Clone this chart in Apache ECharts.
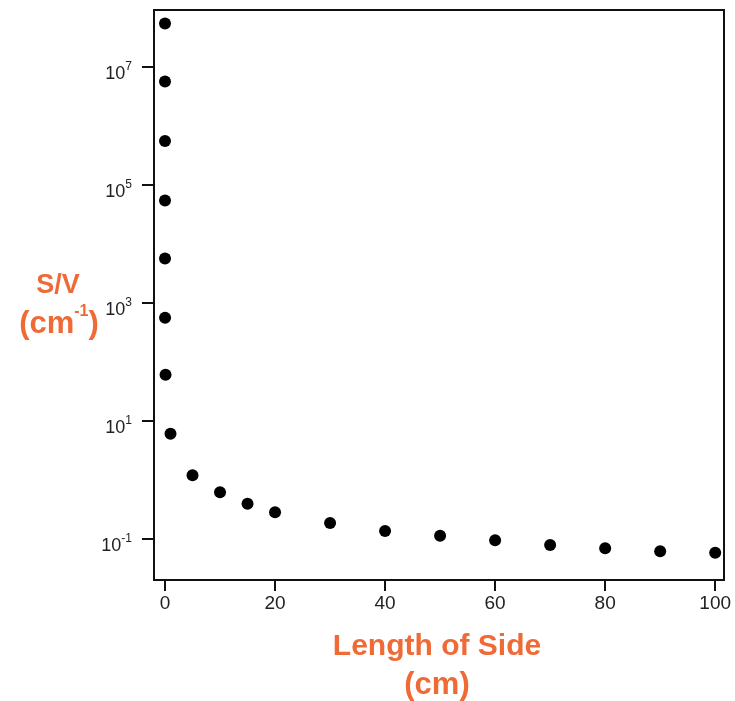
<!DOCTYPE html>
<html><head><meta charset="utf-8">
<script src="https://cdn.jsdelivr.net/npm/echarts@6/dist/echarts.min.js"></script>
<style>html,body{margin:0;padding:0;background:#fff}#c{width:735px;height:701px}</style>
</head><body><div id="c"></div>
<script>
const sideLengths = [1e-7, 1e-6, 1e-5, 1e-4, 1e-3, 1e-2, 0.1, 1, 5, 10, 15, 20, 30, 40, 50, 60, 70, 80, 90, 100];
const surfaceToVolume = [5.4e7, 5.6e6, 5.5e5, 5.4e4, 5.6e3, 557, 60, 6.0, 1.19, 0.61, 0.39, 0.28, 0.185, 0.135, 0.112, 0.094, 0.078, 0.069, 0.061, 0.058];
const xTickValues = [0, 20, 40, 60, 80, 100];
const yTickValues = [0.1, 10, 1e3, 1e5, 1e7];

const points = sideLengths.map((x, i) => [x, surfaceToVolume[i]]);
const orange = '#F06A35';
const font = 'Liberation Sans, Arial, sans-serif';
const yMin = Math.pow(10, -1.70), yMax = Math.pow(10, 7.96);

const chart = echarts.init(document.getElementById('c'), null, {renderer: 'canvas'});
chart.setOption({
  animation: false,
  backgroundColor: '#fff',
  grid: {left: 154, right: 11, top: 10, bottom: 121, show: true, borderColor: '#111', borderWidth: 2, backgroundColor: 'transparent'},
  xAxis: {
    type: 'value', min: -2, max: 101.6,
    axisLine: {show: true, onZero: false, lineStyle: {color: '#111', width: 2}},
    axisTick: {show: true, length: 11, lineStyle: {color: '#111', width: 2}, customValues: xTickValues},
    axisLabel: {customValues: xTickValues, margin: 14, fontSize: 19, color: '#222', fontFamily: font},
    splitLine: {show: false}
  },
  yAxis: {
    type: 'log', logBase: 10, min: yMin, max: yMax,
    axisLine: {show: true, onZero: false, lineStyle: {color: '#111', width: 2}},
    axisTick: {show: true, length: 12, lineStyle: {color: '#111', width: 2}, customValues: yTickValues},
    axisLabel: {
      customValues: yTickValues, margin: 22, fontFamily: font, color: '#222', padding: [10, 0, 0, 0],
      formatter: v => '{b|10}{s|' + Math.round(Math.log10(v)) + '}',
      rich: {
        b: {fontSize: 18, color: '#222', fontFamily: font, lineHeight: 22, verticalAlign: 'bottom'},
        s: {fontSize: 12, color: '#222', fontFamily: font, lineHeight: 12, verticalAlign: 'top'}
      }
    },
    splitLine: {show: false}
  },
  graphic: [
    {type: 'text', x: 58, y: 286, style: {text: 'S/V', fill: orange, font: 'bold 27px ' + font, textAlign: 'center', textVerticalAlign: 'middle'}},
    {type: 'text', x: 59, y: 322, style: {
      text: '{a|(cm}{s|-1}{a|)}', textAlign: 'center', textVerticalAlign: 'middle',
      rich: {
        a: {fill: orange, fontSize: 31, fontWeight: 'bold', fontFamily: font, lineHeight: 36, verticalAlign: 'bottom'},
        s: {fill: orange, fontSize: 16, fontWeight: 'bold', fontFamily: font, lineHeight: 16, verticalAlign: 'top'}
      }
    }},
    {type: 'text', x: 437, y: 647, style: {text: 'Length of Side', fill: orange, font: 'bold 30px ' + font, textAlign: 'center', textVerticalAlign: 'middle'}},
    {type: 'text', x: 437, y: 685, style: {text: '(cm)', fill: orange, font: 'bold 31px ' + font, textAlign: 'center', textVerticalAlign: 'middle'}}
  ],
  series: [{
    type: 'scatter', data: points, symbol: 'circle', symbolSize: 12,
    itemStyle: {color: '#000', opacity: 1}
  }]
});
</script></body></html>
